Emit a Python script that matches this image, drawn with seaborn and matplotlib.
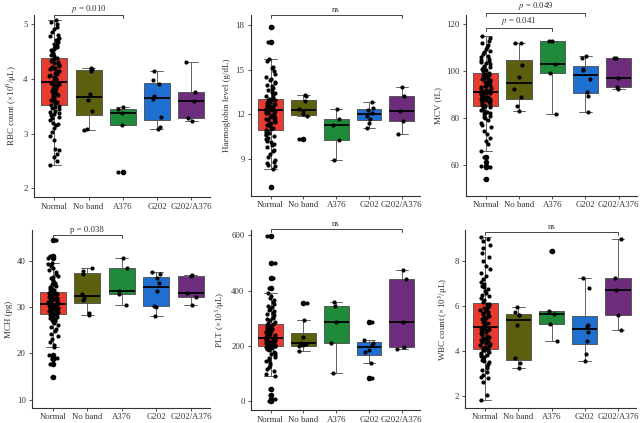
import numpy as np
import pandas as pd
import seaborn as sns
from matplotlib import pyplot as plt

groups = ["Normal", "No band", "A376", "G202", "G202/A376"]
colors = ["#E83A2E", "#5C5F0E", "#1E8A3A", "#1E6FD0", "#6E2C7C"]

# RBC count
rbc_normal = [2.43, 2.5, 2.58, 2.62, 2.7, 2.72, 2.88, 2.95, 3.02, 3.1, 3.15, 3.18, 3.2, 3.25, 3.28, 3.3, 3.33, 3.35,
              3.38, 3.4, 3.42, 3.44, 3.46, 3.48, 3.5, 3.53, 3.55, 3.57, 3.58, 3.6, 3.62, 3.64, 3.65, 3.67, 3.68, 3.7,
              3.72, 3.73, 3.75, 3.77, 3.78, 3.8, 3.82, 3.84, 3.85, 3.87, 3.88, 3.9, 3.92, 3.94, 3.96, 3.98, 4.0, 4.02,
              4.03, 4.05, 4.07, 4.08, 4.1, 4.12, 4.14, 4.15, 4.17, 4.19, 4.2, 4.22, 4.24, 4.25, 4.27, 4.29, 4.3, 4.32,
              4.34, 4.36, 4.38, 4.41, 4.43, 4.45, 4.47, 4.5, 4.52, 4.54, 4.56, 4.58, 4.6, 4.62, 4.64, 4.66, 4.68, 4.7,
              4.72, 4.75, 4.78, 4.8, 4.85, 4.9, 4.95, 5.0, 5.04, 5.07]
rbc_noband = [3.07, 3.08, 3.42, 3.62, 3.73, 4.15, 4.18, 4.2]
rbc_a376 = [2.3, 3.15, 3.38, 3.45, 3.48]
rbc_g202 = [3.09, 3.12, 3.3, 3.63, 3.68, 3.9, 3.97, 4.14]
rbc_g202a376 = [3.23, 3.29, 3.6, 3.75, 4.31]

# Haemoglobin
hb_normal = [7.1, 8.3, 8.5, 8.6, 8.7, 8.8, 8.9, 9.1, 9.3, 9.5, 9.6, 9.8, 9.9, 10.0, 10.1, 10.2, 10.3, 10.4, 10.5,
             10.6, 10.7, 10.75, 10.8, 10.85, 10.95, 11.0, 11.1, 11.2, 11.3, 11.35, 11.4, 11.5, 11.55, 11.6, 11.65,
             11.7, 11.75, 11.8, 11.85, 11.9, 11.95, 12.0, 12.05, 12.1, 12.15, 12.2, 12.22, 12.25, 12.28, 12.32, 12.35,
             12.38, 12.4, 12.43, 12.45, 12.48, 12.5, 12.53, 12.55, 12.58, 12.6, 12.65, 12.7, 12.72, 12.75, 12.8,
             12.82, 12.85, 12.9, 12.95, 12.98, 13.0, 13.03, 13.06, 13.12, 13.2, 13.3, 13.4, 13.5, 13.6, 13.7, 13.8,
             13.9, 14.0, 14.1, 14.2, 14.3, 14.4, 14.5, 14.7, 14.9, 15.1, 15.2, 15.6, 15.7, 16.85, 17.9]
hb_noband = [10.3, 11.9, 12.0, 12.2, 12.35, 12.9, 13.2, 13.3]
hb_a376 = [8.9, 10.25, 11.3, 11.7, 12.35]
hb_g202 = [11.1, 11.4, 11.65, 11.9, 12.1, 12.3, 12.45, 12.8]
hb_g202a376 = [10.65, 11.55, 12.2, 13.2, 13.85]

# MCV
mcv_normal = [54, 59, 59.5, 61, 63.5, 66, 69, 70, 71.5, 73, 74.5, 76, 77, 78, 79, 80, 80.5, 81, 81.5, 82, 82.5, 83,
              83.5, 84, 84.8, 85, 85.3, 85.6, 86, 86.3, 86.6, 87, 87.3, 87.6, 88, 88.2, 88.5, 88.8, 89, 89.2, 89.5,
              89.7, 90, 90.2, 90.4, 90.6, 90.7, 90.8, 90.9, 91.2, 91.5, 91.8, 92.1, 92.5, 92.8, 93.1, 93.5, 93.8,
              94.2, 94.5, 94.8, 95.2, 95.5, 95.8, 96.2, 96.5, 96.8, 97.2, 97.5, 97.8, 98.1, 98.4, 98.6, 98.8, 99.3,
              99.8, 100.3, 100.8, 101.3, 101.8, 102.3, 102.8, 103.3, 103.8, 104.3, 104.8, 105.3, 105.8, 106.5, 107.2,
              108, 108.7, 109.5, 110.3, 111, 112, 113, 114, 115]
mcv_noband = [83, 85, 89, 92.5, 97.5, 102.5, 112, 112]
mcv_a376 = [81.5, 99, 103, 113, 113]
mcv_g202 = [82.5, 89.5, 91, 96.5, 100.5, 101, 105.5, 106.5]
mcv_g202a376 = [92.3, 93, 97, 105.5, 105.5]

# MCH
mch_normal = [15, 17.8, 18.9, 19.1, 19.6, 21.3, 21.8, 22.5, 23.2, 23.8, 24.3, 24.8, 25.3, 25.7, 26.1, 26.5, 26.8,
              27.1, 27.3, 27.5, 27.7, 27.9, 28.0, 28.2, 28.4, 28.5, 28.6, 28.7, 28.8, 28.9, 29.0, 29.1, 29.2, 29.3,
              29.4, 29.5, 29.6, 29.7, 29.8, 29.9, 30.0, 30.1, 30.2, 30.3, 30.4, 30.45, 30.5, 30.6, 30.65, 30.75,
              30.85, 30.95, 31.05, 31.15, 31.25, 31.35, 31.45, 31.55, 31.65, 31.75, 31.85, 31.95, 32.05, 32.15,
              32.25, 32.35, 32.45, 32.55, 32.65, 32.75, 32.85, 32.95, 33.05, 33.2, 33.4, 33.6, 33.8, 34.0, 34.2,
              34.4, 34.6, 34.8, 35.0, 35.3, 35.6, 35.9, 36.2, 36.5, 36.8, 37.2, 37.6, 38.0, 38.4, 38.8, 39.2, 39.6,
              40.6, 41.0, 44.5]
mch_noband = [28.2, 28.7, 31.5, 32, 32.8, 37.2, 37.8, 38.5]
mch_a376 = [30.5, 32.8, 33.5, 38.5, 40.5]
mch_g202 = [28, 30, 30.3, 33.4, 35.2, 36.2, 37.2, 37.6]
mch_g202a376 = [30.5, 32.1, 33, 36.7, 37]

# PLT
plt_normal = [2, 10, 25, 45, 92, 100, 110, 118, 125, 132, 138, 145, 150, 156, 162, 167, 172, 176, 180, 184, 188, 192,
              195, 198, 199, 200, 201, 202, 204, 205, 206, 207, 208, 209, 210, 211, 212, 213, 214, 215, 216, 217, 218,
              219, 220, 221, 222, 223, 227, 229, 231, 233, 235, 237, 239, 241, 243, 245, 247, 249, 251, 253, 255,
              257, 259, 261, 263, 265, 267, 269, 271, 273, 275, 280, 284, 288, 292, 296, 300, 305, 310, 315, 320,
              325, 330, 335, 340, 345, 350, 358, 365, 372, 380, 390, 410, 445, 500, 595]
plt_noband = [183, 199, 202, 208, 212, 232, 295, 355]
plt_a376 = [102, 212, 288, 345, 360]
plt_g202 = [83, 140, 178, 185, 205, 212, 220, 285]
plt_g202a376 = [190, 195, 288, 440, 475]

# WBC count
wbc_normal = [1.8, 2.05, 2.6, 2.8, 2.85, 2.95, 3.05, 3.15, 3.25, 3.35, 3.42, 3.5, 3.56, 3.62, 3.68, 3.73, 3.78, 3.83,
              3.88, 3.92, 3.96, 4.0, 4.03, 4.06, 4.08, 4.12, 4.16, 4.2, 4.24, 4.28, 4.32, 4.36, 4.4, 4.44, 4.48, 4.52,
              4.56, 4.6, 4.64, 4.68, 4.72, 4.76, 4.8, 4.84, 4.88, 4.92, 4.95, 4.98, 5.0, 5.03, 5.08, 5.12, 5.16, 5.2,
              5.25, 5.3, 5.34, 5.38, 5.43, 5.48, 5.52, 5.56, 5.6, 5.65, 5.7, 5.74, 5.78, 5.82, 5.87, 5.92, 5.96, 6.0,
              6.04, 6.08, 6.12, 6.2, 6.28, 6.36, 6.44, 6.52, 6.6, 6.68, 6.76, 6.84, 6.92, 7.0, 7.1, 7.2, 7.35, 7.5,
              7.65, 7.8, 8.0, 8.2, 8.4, 8.6, 8.75, 8.9, 9.0, 9.1]
wbc_noband = [3.25, 3.45, 3.68, 5.15, 5.6, 5.6, 5.75, 5.97]
wbc_a376 = [4.45, 5.2, 5.65, 5.78, 8.45]
wbc_g202 = [3.57, 3.85, 4.45, 4.85, 5.1, 5.18, 6.8, 7.27]
wbc_g202a376 = [4.93, 5.6, 6.72, 7.27, 9.0]


def make_df(lists):
    rows = []
    for g, vals in zip(groups, lists):
        for v in vals:
            rows.append({"group": g, "value": v})
    return pd.DataFrame(rows)


def draw_panel(ax, lists, ylabel, ylim, yticks, brackets):
    df = make_df(lists)
    sns.boxplot(data=df, x="group", y="value", hue="group", order=groups, hue_order=groups,
                palette=colors, saturation=1, width=0.76, linewidth=0.6, linecolor="#4a4a4a",
                legend=False,
                medianprops={"color": "black", "linewidth": 1.3},
                flierprops={"marker": "o", "markerfacecolor": "black", "markeredgecolor": "black",
                            "markersize": 3.0},
                ax=ax)
    sns.stripplot(data=df, x="group", y="value", order=groups, color="black", size=3.0,
                  jitter=0.15, ax=ax, zorder=3)
    ax.set_xlim(-0.6, 4.55)
    ax.set_ylim(*ylim)
    ax.set_yticks(yticks)
    ax.set_xlabel("")
    ax.set_ylabel(ylabel, fontsize=6.5, color="#333333", labelpad=3)
    ax.tick_params(labelsize=6.3, length=2.5, width=0.6, color="#333333", labelcolor="#333333")
    ax.tick_params(axis="x", pad=1.5)
    ax.tick_params(axis="y", pad=2)
    for s in ["left", "bottom"]:
        ax.spines[s].set_linewidth(0.8)
        ax.spines[s].set_color("#333333")
    sns.despine(ax=ax)
    trans = ax.get_xaxis_transform()
    for x0, x1, y, label in brackets:
        ax.plot([x0, x0, x1, x1], [y - 0.016, y, y, y - 0.016], transform=trans,
                color="#444444", lw=0.7, clip_on=False)
        ax.text((x0 + x1) / 2, y + 0.004, label, transform=trans, ha="center", va="bottom",
                fontsize=6.3, color="#333333", clip_on=False)


sns.set_style("ticks")
plt.rcParams["font.family"] = ["Liberation Serif", "DejaVu Serif"]
plt.rcParams["mathtext.fontset"] = "stix"

np.random.seed(7)
fig = plt.figure(figsize=(6.4, 4.23), dpi=100)

ax1 = fig.add_axes([0.053, 0.534, 0.275, 0.430])
ax2 = fig.add_axes([0.392, 0.537, 0.264, 0.428])
ax3 = fig.add_axes([0.728, 0.537, 0.267, 0.428])
ax4 = fig.add_axes([0.050, 0.036, 0.278, 0.420])
ax5 = fig.add_axes([0.392, 0.030, 0.264, 0.426])
ax6 = fig.add_axes([0.727, 0.036, 0.267, 0.420])

draw_panel(ax1, [rbc_normal, rbc_noband, rbc_a376, rbc_g202, rbc_g202a376],
           "RBC count (×10$^{6}$/μL)", (1.84, 5.16), [2, 3, 4, 5],
           [(0, 2, 1.0, "$p$ = 0.010")])
draw_panel(ax2, [hb_normal, hb_noband, hb_a376, hb_g202, hb_g202a376],
           "Haemoglobin level (g/dL)", (6.5, 18.7), [9, 12, 15, 18],
           [(0, 4, 1.0, "ns")])
draw_panel(ax3, [mcv_normal, mcv_noband, mcv_a376, mcv_g202, mcv_g202a376],
           "MCV (fL)", (46.7, 124), [60, 80, 100, 120],
           [(0, 3, 1.01, "$p$ = 0.049"), (0, 2, 0.928, "$p$ = 0.041")])
draw_panel(ax4, [mch_normal, mch_noband, mch_a376, mch_g202, mch_g202a376],
           "MCH (pg)", (8.3, 46.6), [10, 20, 30, 40],
           [(0, 2, 0.972, "p = 0.038")])
draw_panel(ax5, [plt_normal, plt_noband, plt_a376, plt_g202, plt_g202a376],
           "PLT (×10$^{3}$/μL)", (-32, 618), [0, 200, 400, 600],
           [(0, 4, 1.005, "ns")])
draw_panel(ax6, [wbc_normal, wbc_noband, wbc_a376, wbc_g202, wbc_g202a376],
           "WBC count (×10$^{3}$/μL)", (1.47, 9.4), [2, 4, 6, 8],
           [(0, 4, 0.989, "ns")])

fig.savefig("out.png", dpi=100)
